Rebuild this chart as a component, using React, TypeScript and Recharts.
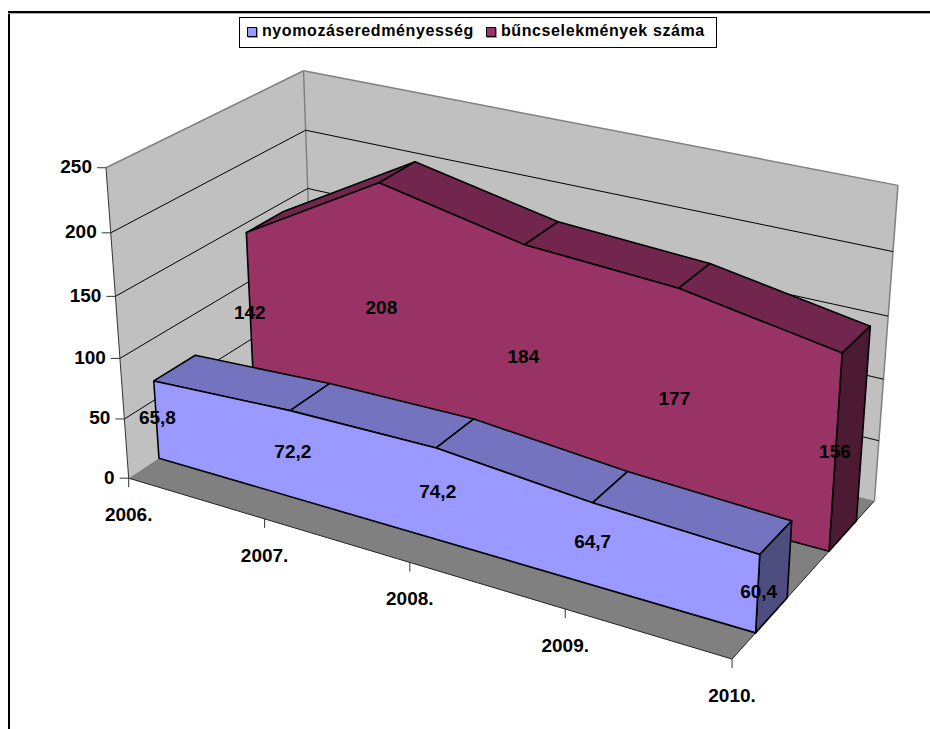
import React from "react";
import { ComposedChart, Line, XAxis, YAxis } from "recharts";

const YEARS = ["2006.", "2007.", "2008.", "2009.", "2010."];
const DETECTION = [65.8, 72.2, 74.2, 64.7, 60.4];
const CRIMES = [142, 208, 184, 177, 156];
const DETECTION_LABELS = ["65,8", "72,2", "74,2", "64,7", "60,4"];
const VALUE_TICKS = [0, 50, 100, 150, 200, 250];
const LEGEND_NAMES = ["nyomozáseredményesség", "bűncselekmények száma"];

// depth of each ribbon inside the plot box (0 = front, 1 = back wall)
const Z_BLUE: [number, number] = [0.15, 0.36];
const Z_RED: [number, number] = [0.655, 0.86];

// camera calibration: box position (category, value, depth) -> page pixel
const CAMERA: number[][] = [
  [0, 0, 0, 128.3, 477.7], [0, 250, 0, 106, 167], [0, 250, 1, 305, 71],
  [4, 250, 1, 899, 186], [4, 0, 1, 875, 500.7], [4, 0, 0, 732.3, 659.3],
  [0, 200, 0, 110.7, 233], [0, 100, 0, 120, 357], [0, 50, 0, 125, 419],
  [0, 200, 1, 306, 131], [0, 150, 1, 308, 188], [4, 200, 1, 893.3, 250.7],
  [4, 150, 1, 888.3, 315.3], [4, 100, 1, 883.3, 378.3], [1, 0, 0, 265.3, 520],
  [0, 65.8, Z_BLUE[0], 154, 382.3], [0, 0, Z_BLUE[0], 160, 457.7], [0, 65.8, Z_BLUE[1], 193.3, 356],
  [4, 60.4, Z_BLUE[0], 760, 554], [4, 0, Z_BLUE[0], 756, 631.7], [4, 60.4, Z_BLUE[1], 791, 522.7],
  [4, 0, Z_BLUE[1], 786.7, 598.3], [0, 142, Z_RED[0], 245, 231.7], [4, 156, Z_RED[0], 841.7, 354],
  [4, 156, Z_RED[1], 869, 326.7], [4, 0, Z_RED[0], 829, 550], [4, 0, Z_RED[1], 856.7, 521.7],
  [1, 208, Z_RED[0], 380, 183], [1, 208, Z_RED[1], 413, 162],
];

function solveCamera(): number[] {
  const n = 11;
  const A = Array.from({ length: n }, () => new Array(n + 1).fill(0));
  const add = (row: number[], rhs: number) => {
    for (let i = 0; i < n; i++) {
      for (let j = 0; j < n; j++) A[i][j] += row[i] * row[j];
      A[i][n] += row[i] * rhs;
    }
  };
  for (const [X, Y, Z, px, py] of CAMERA) {
    const x = X / 4, y = Y / 250, u = px / 930, v = py / 729;
    add([x, y, Z, 1, 0, 0, 0, 0, -u * x, -u * y, -u * Z], u);
    add([0, 0, 0, 0, x, y, Z, 1, -v * x, -v * y, -v * Z], v);
  }
  for (let c = 0; c < n; c++) {
    let p = c;
    for (let r = c + 1; r < n; r++) if (Math.abs(A[r][c]) > Math.abs(A[p][c])) p = r;
    [A[c], A[p]] = [A[p], A[c]];
    for (let r = 0; r < n; r++) {
      if (r === c) continue;
      const f = A[r][c] / A[c][c];
      for (let k = c; k <= n; k++) A[r][k] -= f * A[c][k];
    }
  }
  return A.map((row, i) => row[n] / row[i]);
}
const M = solveCamera();

type V3 = [number, number, number];
function project([X, Y, Z]: V3) {
  const x = X / 4, y = Y / 250;
  const w = M[8] * x + M[9] * y + M[10] * Z + 1;
  return {
    px: ((M[0] * x + M[1] * y + M[2] * Z + M[3]) / w) * 930,
    py: ((M[4] * x + M[5] * y + M[6] * Z + M[7]) / w) * 729,
  };
}

type Face = { id: string; verts: V3[]; fill: string; stroke: string; sw: number };
const faces: Face[] = [];
const face = (id: string, verts: V3[], fill: string, stroke: string, sw = 1) =>
  faces.push({ id, verts, fill, stroke, sw });

// walls and floor
face("wall-left", [[0, 0, 0], [0, 250, 0], [0, 250, 1], [0, 0, 1]], "#C0C0C0", "none");
face("wall-back", [[0, 0, 1], [0, 250, 1], [4, 250, 1], [4, 0, 1]], "#C0C0C0", "none");
face("floor", [[0, 0, 0], [4, 0, 0], [4, 0, 1], [0, 0, 1]], "#808080", "none");
face("wall-top-left", [[0, 250, 0], [0, 250, 1]], "none", "#808080", 1.5);
face("wall-top-back", [[0, 250, 1], [4, 250, 1]], "none", "#808080", 1.5);
face("wall-corner", [[0, 250, 1], [0, 0, 1]], "none", "#808080", 1.5);
face("wall-right", [[4, 250, 1], [4, 0, 1]], "none", "#808080", 1.5);
VALUE_TICKS.slice(1, -1).forEach((t) => {
  face(`grid-l-${t}`, [[0, t, 0], [0, t, 1], [4, t, 1]], "none", "#000000", 1);
});
face("axis-y", [[0, 0, 0], [0, 250, 0]], "none", "#333333", 1);
face("axis-x", [[0, 0, 0], [4, 0, 0], [4, 0, 1]], "none", "#222222", 1);

function ribbon(id: string, values: number[], z: [number, number], fill: string, top: string, side: string) {
  const [zf, zb] = z;
  const last = values.length - 1;
  values.slice(0, -1).forEach((v, i) => {
    face(`${id}-top-${i}`, [[i, v, zf], [i, v, zb], [i + 1, values[i + 1], zb], [i + 1, values[i + 1], zf]], top, "#000000", 1.6);
  });
  face(`${id}-side`, [[last, 0, zf], [last, values[last], zf], [last, values[last], zb], [last, 0, zb]], side, "#000000", 1.6);
  const front: V3[] = [[0, 0, zf], ...values.map((v, i): V3 => [i, v, zf]), [last, 0, zf]];
  face(`${id}-front`, front, fill, "#000000", 1.6);
}
ribbon("crimes", CRIMES, Z_RED, "#993366", "#73264D", "#4D1A33");
ribbon("detection", DETECTION, Z_BLUE, "#9999FF", "#7373BF", "#4D4D80");

type Txt = { id: string; px: number; py: number; text: string; anchor: string };
const texts: Txt[] = [];
VALUE_TICKS.forEach((t) => {
  const p = project([0, t, 0]);
  texts.push({ id: `y${t}`, px: p.px - 14, py: p.py - 1, text: String(t), anchor: "end" });
});
YEARS.forEach((y, i) => {
  const p = project([i, 0, 0]);
  texts.push({ id: y, px: p.px, py: p.py + 36.5, text: y, anchor: "middle" });
});
DETECTION.forEach((v, i) => {
  const p = project([i, v / 2, Z_BLUE[0]]);
  texts.push({ id: `d${i}`, px: p.px + 1, py: p.py - 2.5, text: DETECTION_LABELS[i], anchor: "middle" });
});
CRIMES.forEach((v, i) => {
  const p = project([i, v / 2, Z_RED[0]]);
  texts.push({ id: `c${i}`, px: p.px - 0.5, py: p.py - 2.5, text: String(v), anchor: "middle" });
});

const tickMarks = [
  ...VALUE_TICKS.map((t) => {
    const p = project([0, t, 0]);
    return [{ px: p.px - 9, py: p.py }, p];
  }),
  ...YEARS.map((_, i) => {
    const p = project([i, 0, 0]);
    return [p, { px: p.px, py: p.py + 9 }];
  }),
];

const polyDot = (f: { fill: string; stroke: string; sw: number }) => (props: any) => {
  const { index, points, key } = props;
  if (index !== 0 || !points) return <g key={key ?? index} />;
  const d = points.map((p: any) => `${p.x},${p.y}`).join(" ");
  if (f.fill === "none") {
    return <polyline key={key ?? index} points={d} fill="none" stroke={f.stroke} strokeWidth={f.sw} strokeLinejoin="round" />;
  }
  return (
    <polygon key={key ?? index} points={d} fill={f.fill} stroke={f.stroke} strokeWidth={f.sw} strokeLinejoin="round" />
  );
};

const textDot = (props: any) => {
  const { cx, cy, payload, key, index } = props;
  return (
    <text key={key ?? index} x={cx} y={cy} textAnchor={payload.anchor} dominantBaseline="central"
      fontFamily="Liberation Sans" fontWeight="bold" fontSize={19} fill="#000">
      {payload.text}
    </text>
  );
};

const legendSwatch = (color: string): React.CSSProperties => ({
  display: "inline-block", width: 8, height: 8, background: color, border: "1.5px solid #000",
  boxShadow: "1px 1px 0 #999",
});

export default function App() {
  return (
    <div style={{ position: "absolute", left: 0, top: 0, width: 930, height: 729, overflow: "hidden", background: "#fff" }}>
      <ComposedChart width={930} height={729} margin={{ top: 0, right: 0, bottom: 0, left: 0 }}>
        <XAxis type="number" dataKey="px" domain={[0, 930]} hide allowDataOverflow />
        <YAxis type="number" domain={[729, 0]} hide allowDataOverflow reversed={false} />
        {faces.map((f) => (
          <Line key={f.id} data={f.verts.map(project)} dataKey="py" stroke="none" legendType="none"
            dot={polyDot(f)} activeDot={false} isAnimationActive={false} />
        ))}
        {tickMarks.map((pts, i) => (
          <Line key={`tick${i}`} data={pts} dataKey="py" stroke="#333" strokeWidth={1} dot={false} activeDot={false}
            legendType="none" isAnimationActive={false} />
        ))}
        <Line data={texts} dataKey="py" stroke="none" dot={textDot} activeDot={false} legendType="none" isAnimationActive={false} />
      </ComposedChart>
      <div style={{ position: "absolute", left: 8, top: 11, width: 2, height: 718, background: "#000" }} />
      <div style={{ position: "absolute", left: 8, top: 11, width: 922, height: 2, background: "#000", boxShadow: "0 1px 0 #aaa" }} />
      <div style={{ position: "absolute", left: 239, top: 17, width: 476, height: 29, border: "1px solid #000", background: "#fff",
        fontFamily: "Liberation Sans", fontWeight: "bold", fontSize: 16, letterSpacing: 0.6 }}>
        <span style={{ ...legendSwatch("#9999FF"), position: "absolute", left: 7, top: 9 }} />
        <span style={{ position: "absolute", left: 22, top: 4, whiteSpace: "nowrap" }}>{LEGEND_NAMES[0]}</span>
        <span style={{ ...legendSwatch("#993366"), position: "absolute", left: 246, top: 9 }} />
        <span style={{ position: "absolute", left: 261, top: 4, whiteSpace: "nowrap" }}>{LEGEND_NAMES[1]}</span>
      </div>
    </div>
  );
}
